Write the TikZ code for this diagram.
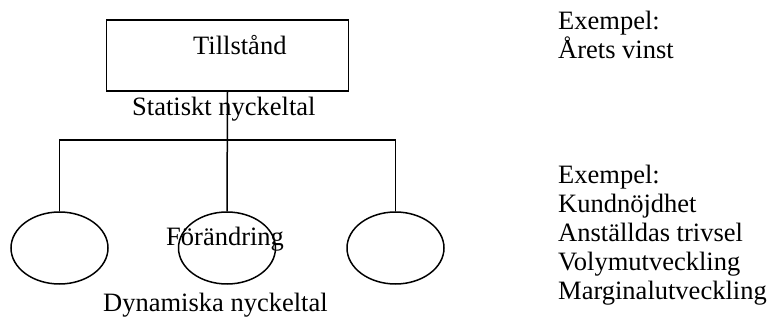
\documentclass[tikz,border=0pt]{standalone}
\usepackage{fontspec}
\setmainfont{Liberation Serif}
\usetikzlibrary{shapes.geometric}
\tikzset{
  txt/.style={font=\fontsize{26.5}{29}\selectfont, inner sep=0pt, anchor=base west},
  col/.style={txt, align=left},
  statebox/.style={draw, line width=1.5pt, rectangle, minimum width=242pt, minimum height=71pt, inner sep=0pt},
  oval/.style={draw, line width=1.5pt, ellipse, minimum width=97pt, minimum height=72pt, inner sep=0pt},
  link/.style={line width=1.5pt}
}
\begin{document}
\begin{tikzpicture}[x=1pt,y=-1pt]
\useasboundingbox (0,0) rectangle (771,320);

% state box and the three change ovals
\node[statebox] (box) at (227.5,55.5) {};
\node[oval] (e1) at (59.5,248) {};
\node[oval] (e2) at (227,248) {};
\node[oval] (e3) at (395.5,248) {};
\coordinate (bar) at (227,140);

% tree connectors
\draw[link] (box.south) -- (e2.north);
\draw[link] (e1.north) |- (bar) -| (e3.north);

% labels
\node[txt] (t1) at (193,55) {Tillstånd};
\node[txt] (t2) at (132,116) {Statiskt nyckeltal};
\node[txt] (t3) at (166,246) {Förändring};
\node[txt] (t4) at (103,312) {Dynamiska nyckeltal};

% examples (anchored at the baseline of the last line)
\node[col] (x1) at (558,59) {Exempel:\\Årets vinst};
\node[col] (x2) at (558,300) {Exempel:\\Kundnöjdhet\\Anställdas trivsel\\Volymutveckling\\Marginalutveckling};
\end{tikzpicture}
\end{document}
